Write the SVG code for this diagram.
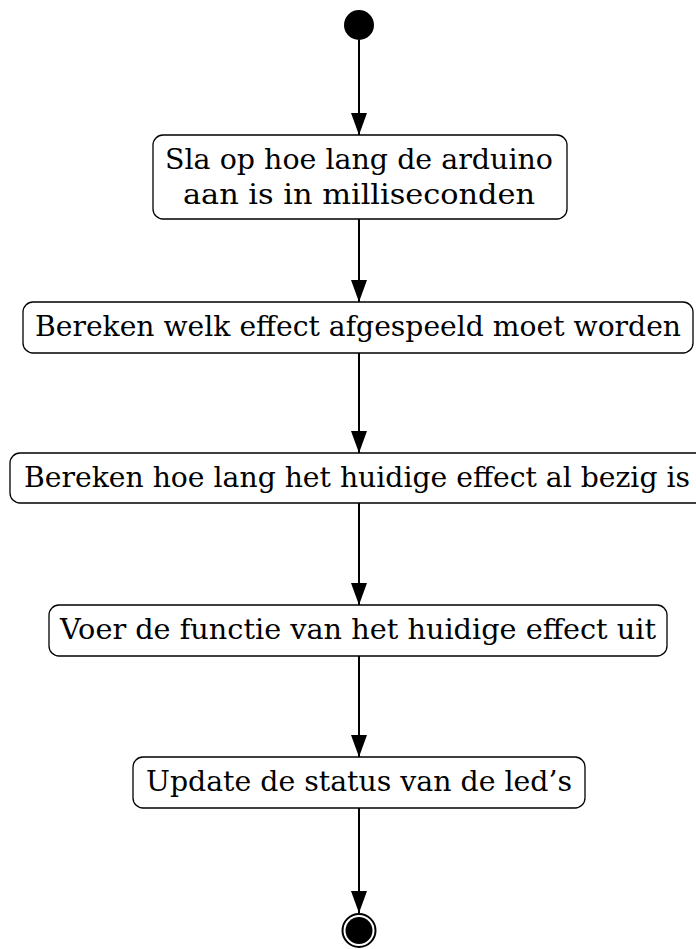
<svg xmlns="http://www.w3.org/2000/svg" width="696" height="949" viewBox="0 0 696 949">
<style>
.box{fill:#fff;stroke:#000;stroke-width:1.3}
.t{font-family:"DejaVu Serif","Liberation Serif",serif;font-size:28px;fill:#000;text-anchor:middle}
.c{stroke:#000;stroke-width:2;fill:none}
</style>
<defs>
<marker id="ah" markerUnits="userSpaceOnUse" markerWidth="22" markerHeight="16" refX="22" refY="8" viewBox="0 0 22 16" orient="auto">
<path d="M0,0 L22,8 L0,16 Z" fill="#000"/>
</marker>
</defs>
<rect width="696" height="949" fill="#fff"/>
<g id="connectors">
<line class="c" x1="359" y1="40" x2="359" y2="135" marker-end="url(#ah)"/>
<line class="c" x1="359" y1="219" x2="359" y2="302" marker-end="url(#ah)"/>
<line class="c" x1="359" y1="353" x2="359" y2="453" marker-end="url(#ah)"/>
<line class="c" x1="359" y1="503" x2="359" y2="605" marker-end="url(#ah)"/>
<line class="c" x1="359" y1="656" x2="359" y2="757" marker-end="url(#ah)"/>
<line class="c" x1="359" y1="808" x2="359" y2="913" marker-end="url(#ah)"/>
</g>
<g id="start">
<circle cx="359" cy="25" r="15" fill="#000"/>
</g>
<g id="n1">
<rect class="box" x="153" y="135" width="414" height="84" rx="10"/>
<text class="t" x="359" y="169" textLength="388" lengthAdjust="spacingAndGlyphs">Sla op hoe lang de arduino</text>
<text class="t" x="359" y="204" textLength="352" lengthAdjust="spacingAndGlyphs">aan is in milliseconden</text>
</g>
<g id="n2">
<rect class="box" x="23" y="302" width="670" height="51" rx="10"/>
<text class="t" x="358" y="336" textLength="646" lengthAdjust="spacingAndGlyphs">Bereken welk effect afgespeeld moet worden</text>
</g>
<g id="n3">
<rect class="box" x="10" y="453" width="697" height="50" rx="10"/>
<text class="t" x="357" y="487" textLength="666" lengthAdjust="spacingAndGlyphs">Bereken hoe lang het huidige effect al bezig is</text>
</g>
<g id="n4">
<rect class="box" x="49" y="605" width="618" height="51" rx="10"/>
<text class="t" x="358" y="639" textLength="596" lengthAdjust="spacingAndGlyphs">Voer de functie van het huidige effect uit</text>
</g>
<g id="n5">
<rect class="box" x="133" y="757" width="452" height="51" rx="10"/>
<text class="t" x="359" y="791" textLength="426" lengthAdjust="spacingAndGlyphs">Update de status van de led’s</text>
</g>
<g id="end">
<circle cx="359" cy="930.5" r="16.5" fill="#fff" stroke="#000" stroke-width="2"/>
<circle cx="359" cy="930.5" r="13.5" fill="#000"/>
</g>
</svg>
